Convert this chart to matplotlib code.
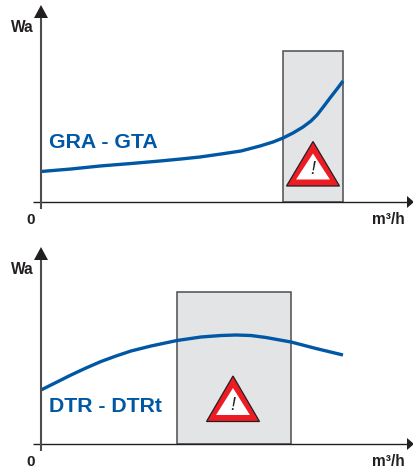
import matplotlib
matplotlib.use("Agg")
import matplotlib.pyplot as plt
from matplotlib.patches import Polygon, Rectangle

plt.rcParams['font.family'] = ['Liberation Sans', 'DejaVu Sans']

# Values are measured from each panel's origin (flow right, power up)
top_flow = [0, 30, 59, 90, 119, 140, 159, 180, 200, 219, 232, 242, 252, 262, 270, 276, 283, 289, 296, 302]
top_power = [30.5, 33, 36, 38.5, 41, 43, 45, 48, 51, 56, 60, 64, 69, 75, 81, 87, 96, 104, 113, 121]
top_zone = (242, 302.5, 151.5)
top_label = "GRA - GTA"

bot_flow = [0, 15, 30, 45, 60, 75, 90, 110, 136, 160, 180, 195, 210, 225, 250, 275, 302]
bot_power = [54, 61.5, 69, 76, 82.5, 88, 93, 98, 103.5, 107, 108.5, 109, 108.5, 106.5, 102, 95.5, 89]
bot_zone = (136, 250, 152)
bot_label = "DTR - DTRt"

x_label = "m³/h"
y_label = "Wa"
origin_label = "0"

BLUE = "#0058a5"
GREY = "#4d4d4f"
DARK = "#231f20"
W, H = 414, 472
fig = plt.figure(figsize=(W / 100, H / 100), dpi=100, facecolor="white")


def panel(origin_y, flow, power, zone, label, label_xy, tri, ytop):
    # 1 data unit = 1 pixel; origin of the data at the axis crossing
    left, right = -41, W - 41
    bottom, top = origin_y - H, origin_y
    ax = fig.add_axes([0, 0, 1, 1], facecolor="none")
    ax.set_xlim(left, right)
    ax.set_ylim(bottom, top)
    ax.axis("off")
    zl, zr, zh = zone
    ax.add_patch(Rectangle((zl, 0), zr - zl, zh, fc="#e3e4e6", ec=GREY, lw=1.1, zorder=1))
    ax.plot(flow, power, color=BLUE, lw=2.4, solid_capstyle="butt", solid_joinstyle="round", zorder=3)
    # Axes
    ax.plot([-8, 366], [0, 0], color=DARK, lw=1.0, zorder=4, solid_capstyle="butt")
    ax.plot([0, 0], [-7, origin_y - ytop - 10], color=GREY, lw=1.5, zorder=4, solid_capstyle="butt")
    ax.add_patch(Polygon([[366, -6], [366, 6], [373, 0]], fc=DARK, ec="none", zorder=5))
    ax.add_patch(Polygon([[-7, origin_y - ytop - 13], [7, origin_y - ytop - 13], [0, origin_y - ytop]],
                         fc=DARK, ec="none", zorder=5))
    # Warning triangle: centre, apex height, base height, half width
    cx, apex, base, hw = tri
    ax.add_patch(Polygon([[cx - hw, base], [cx + hw, base], [cx, apex]], fc="#ed1c24", ec=DARK,
                         lw=0.9, joinstyle="miter", zorder=6))
    ax.add_patch(Polygon([[cx - hw * 0.64, base + 6.5], [cx + hw * 0.64, base + 6.5], [cx, apex - 12]],
                         fc="white", ec="none", zorder=7))
    ax.text(cx, base + 16, "!", fontsize=13, style="italic", color=DARK,
            ha="center", va="center", zorder=8)
    # Text
    ax.text(label_xy[0], label_xy[1], label, color=BLUE, fontsize=15.3, fontweight="bold",
            ha="left", va="center", zorder=9)
    ax.text(-7.5, origin_y - ytop - 22.5, y_label, color=DARK, fontsize=11.2, fontweight="bold",
            ha="right", va="center")
    ax.text(-10, -18, origin_label, color=DARK, fontsize=11, fontweight="bold", ha="center", va="center")
    ax.text(347.5, -18, x_label, color=DARK, fontsize=11.2, fontweight="bold", ha="center", va="center")


panel(202, top_flow, top_power, top_zone, top_label, (8, 60), (272, 60.5, 16, 26.5), 5)
panel(444, bot_flow, bot_power, bot_zone, bot_label, (8, 37), (192, 68, 22.5, 26.5), 247)

fig.savefig("out.png", dpi=100)
